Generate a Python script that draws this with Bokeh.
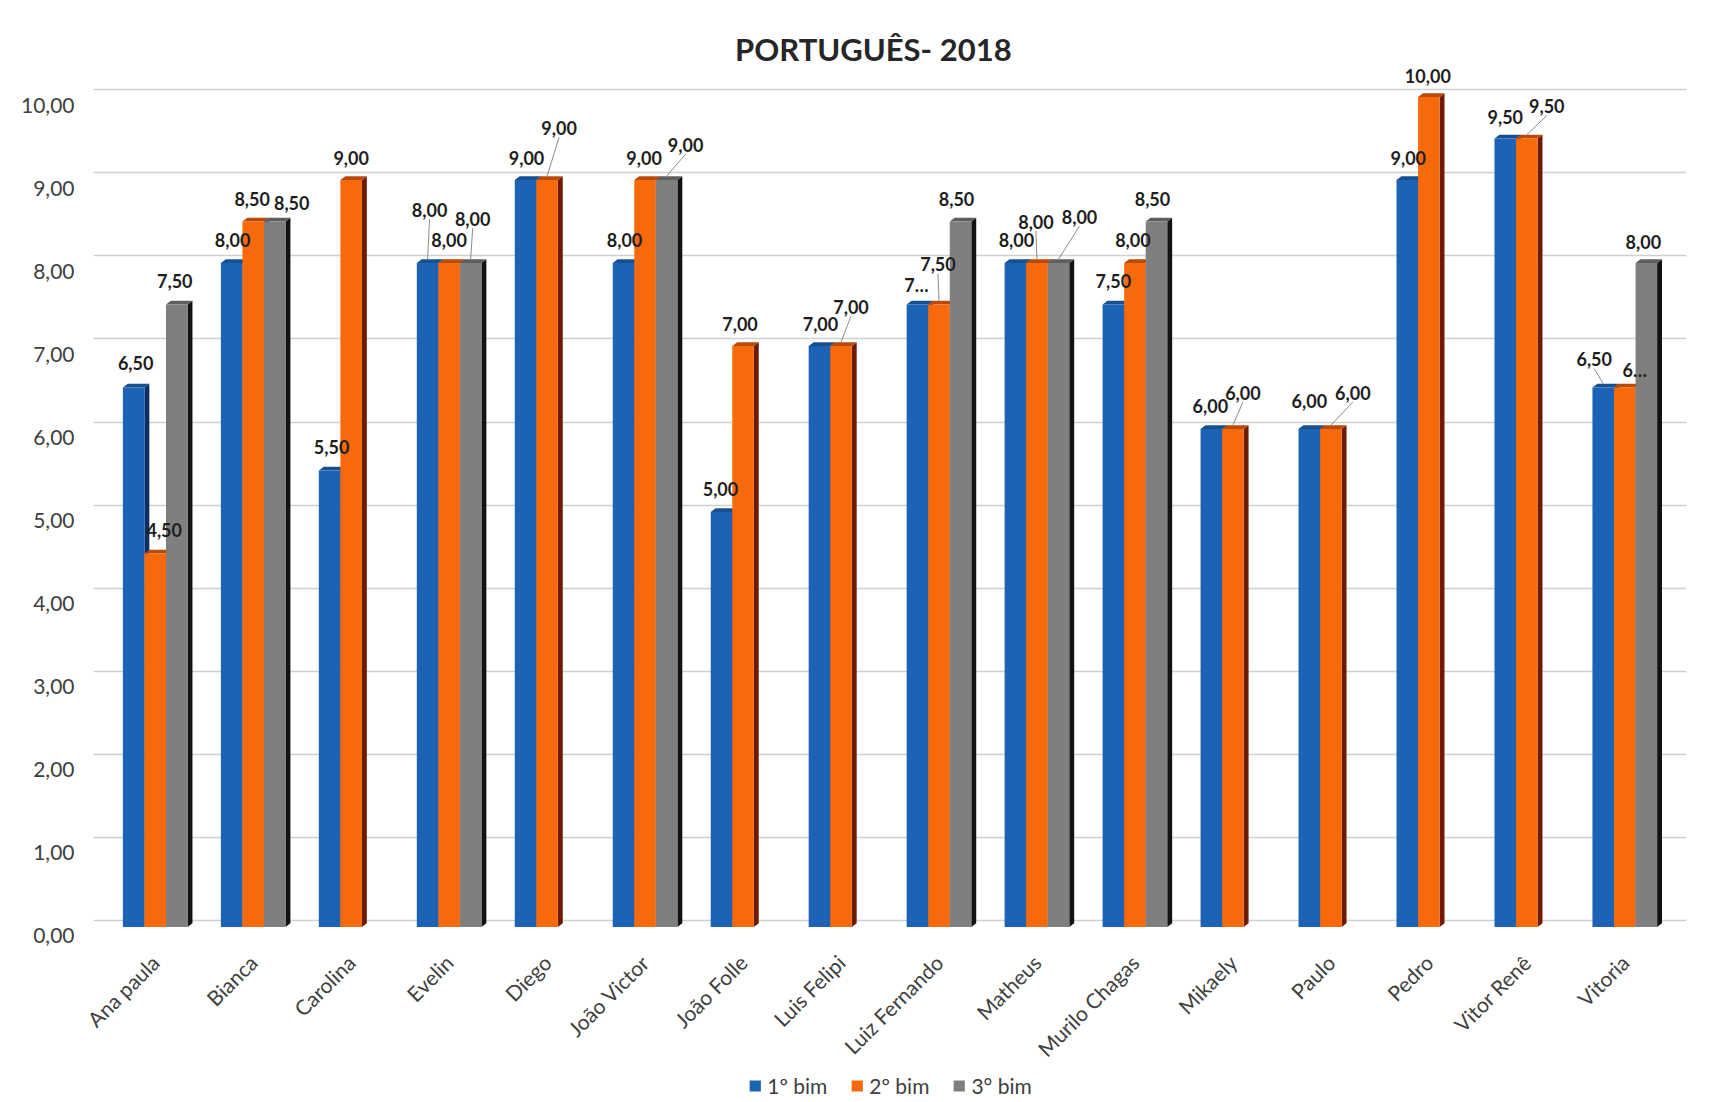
import math
from bokeh.plotting import figure
from bokeh.layouts import column
from bokeh.models import (Range1d, FactorRange, FixedTicker, CustomJSTickFormatter,
                          ColumnDataSource, LabelSet, Label, Legend, LegendItem)
from bokeh.core.properties import value
from bokeh.embed import file_html
from bokeh.resources import INLINE

# ---------------- data ----------------
students = ["Ana paula", "Bianca", "Carolina", "Evelin", "Diego", "João Victor",
            "João Folle", "Luis Felipi", "Luiz Fernando", "Matheus", "Murilo Chagas",
            "Mikaely", "Paulo", "Pedro", "Vitor Renê", "Vitoria"]
bim1 = [6.5, 8.0, 5.5, 8.0, 9.0, 8.0, 5.0, 7.0, 7.5, 8.0, 7.5, 6.0, 6.0, 9.0, 9.5, 6.5]
bim2 = [4.5, 8.5, 9.0, 8.0, 9.0, 9.0, 7.0, 7.0, 7.5, 8.0, 8.0, 6.0, 6.0, 10.0, 9.5, 6.5]
bim3 = [7.5, 8.5, None, 8.0, None, 9.0, None, None, 8.5, 8.0, 8.5, None, None, None, None, 8.0]
series_names = ["1º bim", "2º bim", "3° bim"]
y_ticks = [0, 1, 2, 3, 4, 5, 6, 7, 8, 9, 10]
title_text = "PORTUGUÊS- 2018"
# data labels shown truncated in the original chart
label_overrides = {(0, 8): "7…", (1, 15): "6…"}

# ---------------- styles ----------------
front_colors = ["#1D63B5", "#F66A0C", "#7F7F7F"]
side_colors = ["#0B2F63", "#6E1A06", "#121212"]
top_colors = ["#17508F", "#B94A08", "#5E5E5E"]
FONT = "Lato"
# label offsets (pixels: right, up) relative to bar top-centre
lab_off = [
    [(2, 24), (1, 23), (2, 23), (2, 53), (1, 22), (1, 23), (-1, 23), (1, 22),
     (-1, 19), (1, 23), (0, 23), (-1, 23), (0, 28), (1, 22), (0, 21), (-9, 28)],
    [(9, 23), (-1, 22), (0, 22), (0, 23), (12, 52), (-1, 22), (-3, 22), (10, 39),
     (-1, 40), (-1, 41), (-2, 23), (10, 36), (22, 36), (-1, 21), (20, 32), (10, 17)],
    [(-2, 23), (17, 18), None, (2, 44), None, (19, 35), None, None,
     (-4, 22), (21, 46), (-4, 22), None, None, None, None, (-3, 21)],
]
leader = {(0, 3), (1, 4), (1, 7), (1, 8), (1, 9), (1, 11), (1, 12), (1, 14),
          (2, 3), (2, 5), (2, 9), (0, 15)}

W = 1731
H_MAIN, H_LEG = 1072, 26
ML, MR, MT, MB = 93, 45, 30, 127
Y_START, Y_END = -0.15, 10.8
PAD = 0.13
px_cat = (W - ML - MR) / (len(students) + 2 * PAD)
px_unit = (H_MAIN - MT - MB) / (Y_END - Y_START)
# 3D look: back-wall gridlines sit a little above the bar level, value labels a little below
GRID_SHIFT = 7 / px_unit
LABEL_SHIFT = 9 / px_unit

x_range = FactorRange(factors=students, range_padding=PAD, range_padding_units="absolute")
p = figure(width=W, height=H_MAIN, x_range=x_range,
           y_range=Range1d(Y_START, Y_END), output_backend="svg", toolbar_location=None,
           min_border_left=ML, min_border_right=MR, min_border_top=MT, min_border_bottom=MB)
p.outline_line_color = None
p.background_fill_color = "white"
p.border_fill_color = "white"

BW = 0.22
OFFS = [-0.22, 0.0, 0.22]
D = 0.05      # 3D depth in category units
HZ = 0.045    # 3D rise in value units

series = [bim1, bim2, bim3]
front_renderers = []
for s, vals in enumerate(series):
    xs, tops, sx, sy, tx, ty = [], [], [], [], [], []
    for i, v in enumerate(vals):
        if v is None:
            continue
        xc = i + 0.5 + OFFS[s]
        xl, xr = xc - BW / 2, xc + BW / 2
        xs.append(xc)
        tops.append(v)
        sx.append([xr, xr + D, xr + D, xr])
        sy.append([0, HZ, v + HZ, v])
        tx.append([xl, xr, xr + D, xl + D])
        ty.append([v, v, v + HZ, v + HZ])
    p.patches(sx, sy, fill_color=side_colors[s], line_color=None)
    p.patches(tx, ty, fill_color=top_colors[s], line_color=None)
    r = p.vbar(x=xs, top=tops, bottom=0, width=BW, fill_color=front_colors[s], line_color=None)
    front_renderers.append(r)

# data labels & leader lines
lx, ly, lt, ox, oy = [], [], [], [], []
seg_x0, seg_y0, seg_x1, seg_y1 = [], [], [], []
for s, vals in enumerate(series):
    for i, v in enumerate(vals):
        if v is None:
            continue
        xc = i + 0.5 + OFFS[s]
        dx, dy = lab_off[s][i]
        lx.append(xc)
        ly.append(v)
        lt.append(label_overrides.get((s, i), f"{v:.2f}".replace(".", ",")))
        ox.append(dx)
        oy.append(dy)
        if (s, i) in leader:
            seg_x0.append(xc)
            seg_y0.append(v + HZ)
            seg_x1.append(xc + dx / px_cat)
            seg_y1.append(v + (dy - 9) / px_unit)

p.segment(seg_x0, seg_y0, seg_x1, seg_y1, line_color="#8C8C8C", line_width=1)
lsrc = ColumnDataSource(dict(x=lx, y=ly, t=lt, ox=ox, oy=oy))
p.add_layout(LabelSet(x="x", y="y", text="t", source=lsrc, x_offset="ox", y_offset="oy",
                      text_align="center", text_baseline="middle", text_font=value(FONT),
                      text_font_style="bold", text_font_size="18px", text_color="#1E1E1E"))

# title, drawn inside the top margin of the plot area
p.add_layout(Label(x=7.83, y=10.58, text=title_text, text_align="center", text_baseline="middle",
                   text_font=FONT, text_font_style="bold", text_font_size="31px",
                   text_color="#262626"))

# grid
p.xgrid.grid_line_color = None
p.ygrid.ticker = FixedTicker(ticks=[t + GRID_SHIFT for t in y_ticks])
p.ygrid.grid_line_color = "#D0D0D0"
p.ygrid.grid_line_width = 1.5
p.ygrid.level = "underlay"

# axes
p.yaxis.ticker = FixedTicker(ticks=[t - LABEL_SHIFT for t in y_ticks])
p.yaxis.formatter = CustomJSTickFormatter(
    code="return Math.round(tick).toFixed(2).replace('.', ',');")
p.yaxis.axis_line_color = None
p.yaxis.major_tick_line_color = None
p.yaxis.minor_tick_line_color = None
p.yaxis.major_label_standoff = 13
p.yaxis.major_label_text_font = FONT
p.yaxis.major_label_text_font_size = "21px"
p.yaxis.major_label_text_color = "#404040"

p.xaxis.axis_line_color = None
p.xaxis.major_tick_line_color = None
p.xaxis.minor_tick_line_color = None
p.xaxis.major_label_orientation = math.pi / 4
p.xaxis.major_label_standoff = 13
p.xaxis.major_label_text_font = FONT
p.xaxis.major_label_text_font_size = "21px"
p.xaxis.major_label_text_color = "#404040"

# legend strip under the chart
lg = figure(width=W, height=H_LEG, output_backend="svg", toolbar_location=None,
            x_range=Range1d(0, 1), y_range=Range1d(0, 1),
            min_border_left=0, min_border_right=33, min_border_top=0, min_border_bottom=0)
lg.axis.visible = False
lg.grid.visible = False
lg.outline_line_color = None
lg.border_fill_color = "white"
leg_renderers = [lg.vbar(x=[0.5], top=[0], bottom=[0], width=0.01, fill_color=c, line_color=None)
                 for c in front_colors]
legend = Legend(items=[LegendItem(label=n, renderers=[r]) for n, r in zip(series_names, leg_renderers)],
                orientation="horizontal", location="center",
                label_text_font=FONT, label_text_font_size="21px", label_text_color="#404040",
                glyph_width=14, glyph_height=14, spacing=22, label_standoff=6,
                padding=0, margin=0, label_height=20,
                border_line_color=None, background_fill_alpha=0)
lg.add_layout(legend, "center")

layout = column(p, lg, spacing=0)
open("out.html", "w").write(file_html(layout, INLINE))
